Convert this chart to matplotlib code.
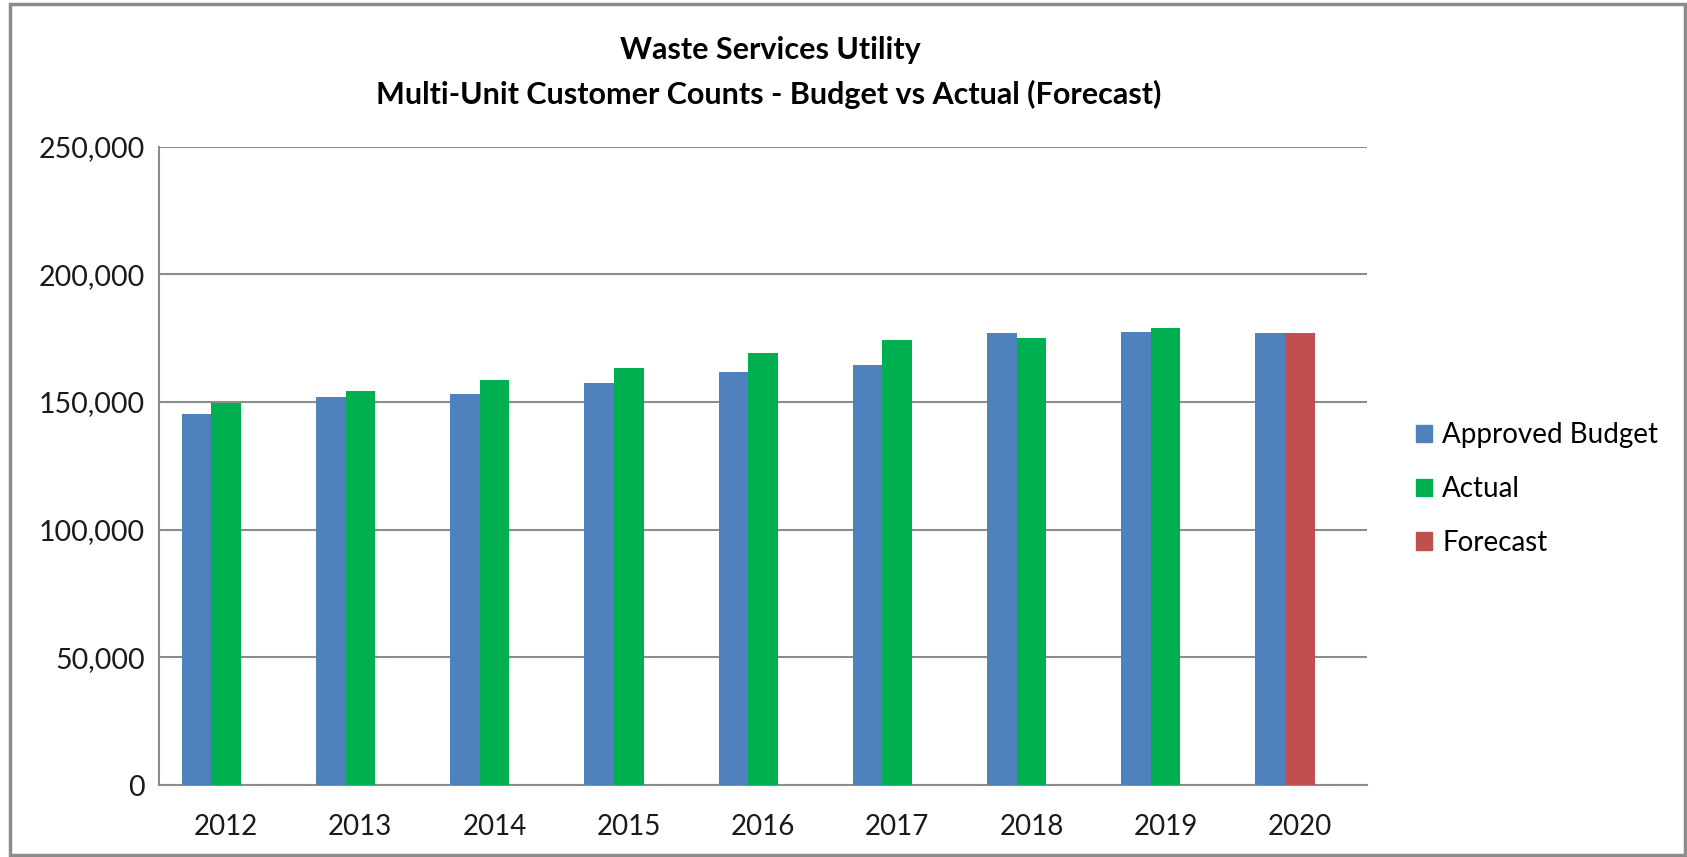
import numpy as np
import matplotlib.pyplot as plt
from matplotlib.patches import Rectangle, Patch
from matplotlib.ticker import FuncFormatter

years = ['2012', '2013', '2014', '2015', '2016', '2017', '2018', '2019', '2020']
budget = [145400, 152100, 153200, 157400, 161600, 164500, 177000, 177600, 177000]
actual = [149800, 154400, 158700, 163300, 169300, 174100, 175200, 178800, np.nan]
forecast = [np.nan, np.nan, np.nan, np.nan, np.nan, np.nan, np.nan, np.nan, 177000]

plt.rcParams['font.family'] = ['Lato', 'DejaVu Sans']

W, H = 1687, 857
fig = plt.figure(figsize=(W / 100, H / 100), dpi=100)
# outer chart border
fig.patches.append(Rectangle((10 / W, 2 / H), 1675 / W, 851 / H,
                             transform=fig.transFigure, fill=False,
                             edgecolor='#8c8c8c', linewidth=2.5))

# plot area in pixels: left 159, right 1367, top 146.7, bottom 785
ax = fig.add_axes([159 / W, (H - 785) / H, 1208 / W, 638.3 / H])

x = np.arange(len(years))
w = 0.221
ax.bar(x - w, budget, w, color='#4F81BD', label='Approved Budget', zorder=3)
ax.bar(x, actual, w, color='#00B050', label='Actual', zorder=3)
ax.bar(x, forecast, w, color='#C0504D', label='Forecast', zorder=3)

ax.set_xlim(-0.5, len(years) - 0.5)
ax.set_ylim(0, 250000)
ax.set_yticks(np.arange(0, 250001, 50000))
ax.yaxis.set_major_formatter(FuncFormatter(lambda v, p: f'{int(v):,}'))
ax.set_xticks(x)
ax.set_xticklabels(years)
ax.tick_params(axis='both', length=0, labelsize=20, colors='#1a1a1a')
ax.tick_params(axis='y', labelsize=20.5, pad=10)
ax.tick_params(axis='x', pad=21)

ax.grid(axis='y', color='#8c8c8c', linewidth=1.5, zorder=0)
for s in ['top', 'right']:
    ax.spines[s].set_visible(False)
for s in ['left', 'bottom']:
    ax.spines[s].set_color('#8c8c8c')
    ax.spines[s].set_linewidth(1.5)

fig.text(770 / W, 1 - 58.5 / H, 'Waste Services Utility', ha='center', va='baseline',
         fontsize=22, fontweight='bold')
fig.text(769 / W, 1 - 104 / H, 'Multi-Unit Customer Counts - Budget vs Actual (Forecast)',
         ha='center', va='baseline', fontsize=22, fontweight='bold')

handles = [Patch(color='#4F81BD'), Patch(color='#00B050'), Patch(color='#C0504D')]
fig.legend(handles, ['Approved Budget', 'Actual', 'Forecast'], loc='center left',
           bbox_to_anchor=(1391 / W, 1 - 489 / H), frameon=False, fontsize=20,
           handlelength=0.58, handleheight=0.58, handletextpad=0.36, labelspacing=1.0)

fig.savefig('out.png', dpi=100, facecolor='white')
